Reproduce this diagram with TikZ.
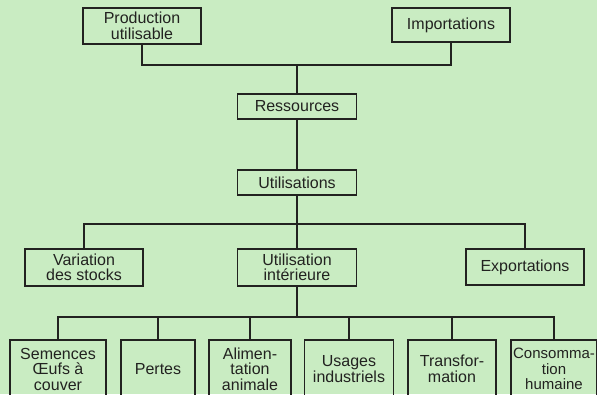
\documentclass[tikz,border=0pt]{standalone}
\usepackage{fontspec}
\setmainfont{Liberation Sans}
\definecolor{paper}{RGB}{201,236,194}
\definecolor{ink}{RGB}{34,34,32}
\begin{document}
\begin{tikzpicture}[x=1pt,y=-1pt,
  box/.style={draw=ink, line width=1.3pt, text=ink, inner sep=0pt, align=center,
    font=\fontsize{16}{15.5}\selectfont},
  link/.style={draw=ink, line width=1.3pt}]
  % paper
  \fill[paper] (0,0) rectangle (597,394);
  \useasboundingbox (0,0) rectangle (597,394);
  \clip (0,0) rectangle (597,394);

  % top level
  \node[box, minimum width=118pt, minimum height=36pt] (prod) at (142,26) {Production\\utilisable};
  \node[box, minimum width=118pt, minimum height=34pt] (imp) at (451,25) {Importations};
  \node[box, minimum width=119pt, minimum height=25pt] (res) at (297,106.5) {Ressources};
  \node[box, minimum width=119pt, minimum height=25pt] (uti) at (297,182.5) {Utilisations};

  % second level
  \node[box, minimum width=118pt, minimum height=37pt] (var) at (84,267.5) {Variation\\des stocks};
  \node[box, minimum width=119pt, minimum height=37pt] (ui) at (297,267.5) {Utilisation\\intérieure};
  \node[box, minimum width=118pt, minimum height=36pt] (exp) at (525,267) {Exportations};

  % third level
  \node[box, minimum width=96pt, minimum height=58pt] (sem) at (58,369) {Semences\\Œufs à\\couver};
  \node[box, minimum width=74pt, minimum height=58pt] (per) at (158,369) {Pertes};
  \node[box, minimum width=82pt, minimum height=58pt] (ali) at (250,369) {Alimen-\\tation\\animale};
  \node[box, minimum width=89pt, minimum height=58pt] (usa) at (349,369) {Usages\\industriels};
  \node[box, minimum width=88pt, minimum height=58pt] (tra) at (452,369) {Transfor-\\mation};
  \node[box, minimum width=86pt, minimum height=58pt, font=\fontsize{15}{15.5}\selectfont] (con) at (554,369) {Consomma-\\tion\\humaine};

  % junctions
  \coordinate (j1) at (297,65);
  \coordinate (j2) at (297,224);
  \coordinate (j3) at (297,317);

  % connectors
  \draw[link] (prod.south) |- (j1) -| (imp.south);
  \draw[link] (j1) -- (res.north);
  \draw[link] (res.south) -- (uti.north);
  \draw[link] (uti.south) -- (j2);
  \draw[link] (var.north) |- (j2) -| (exp.north);
  \draw[link] (j2) -- (ui.north);
  \draw[link] (ui.south) -- (j3);
  \draw[link] (sem.north) |- (j3) -| (con.north);
  \draw[link] (per.north |- j3) -- (per.north);
  \draw[link] (ali.north |- j3) -- (ali.north);
  \draw[link] (usa.north |- j3) -- (usa.north);
  \draw[link] (tra.north |- j3) -- (tra.north);
\end{tikzpicture}
\end{document}
